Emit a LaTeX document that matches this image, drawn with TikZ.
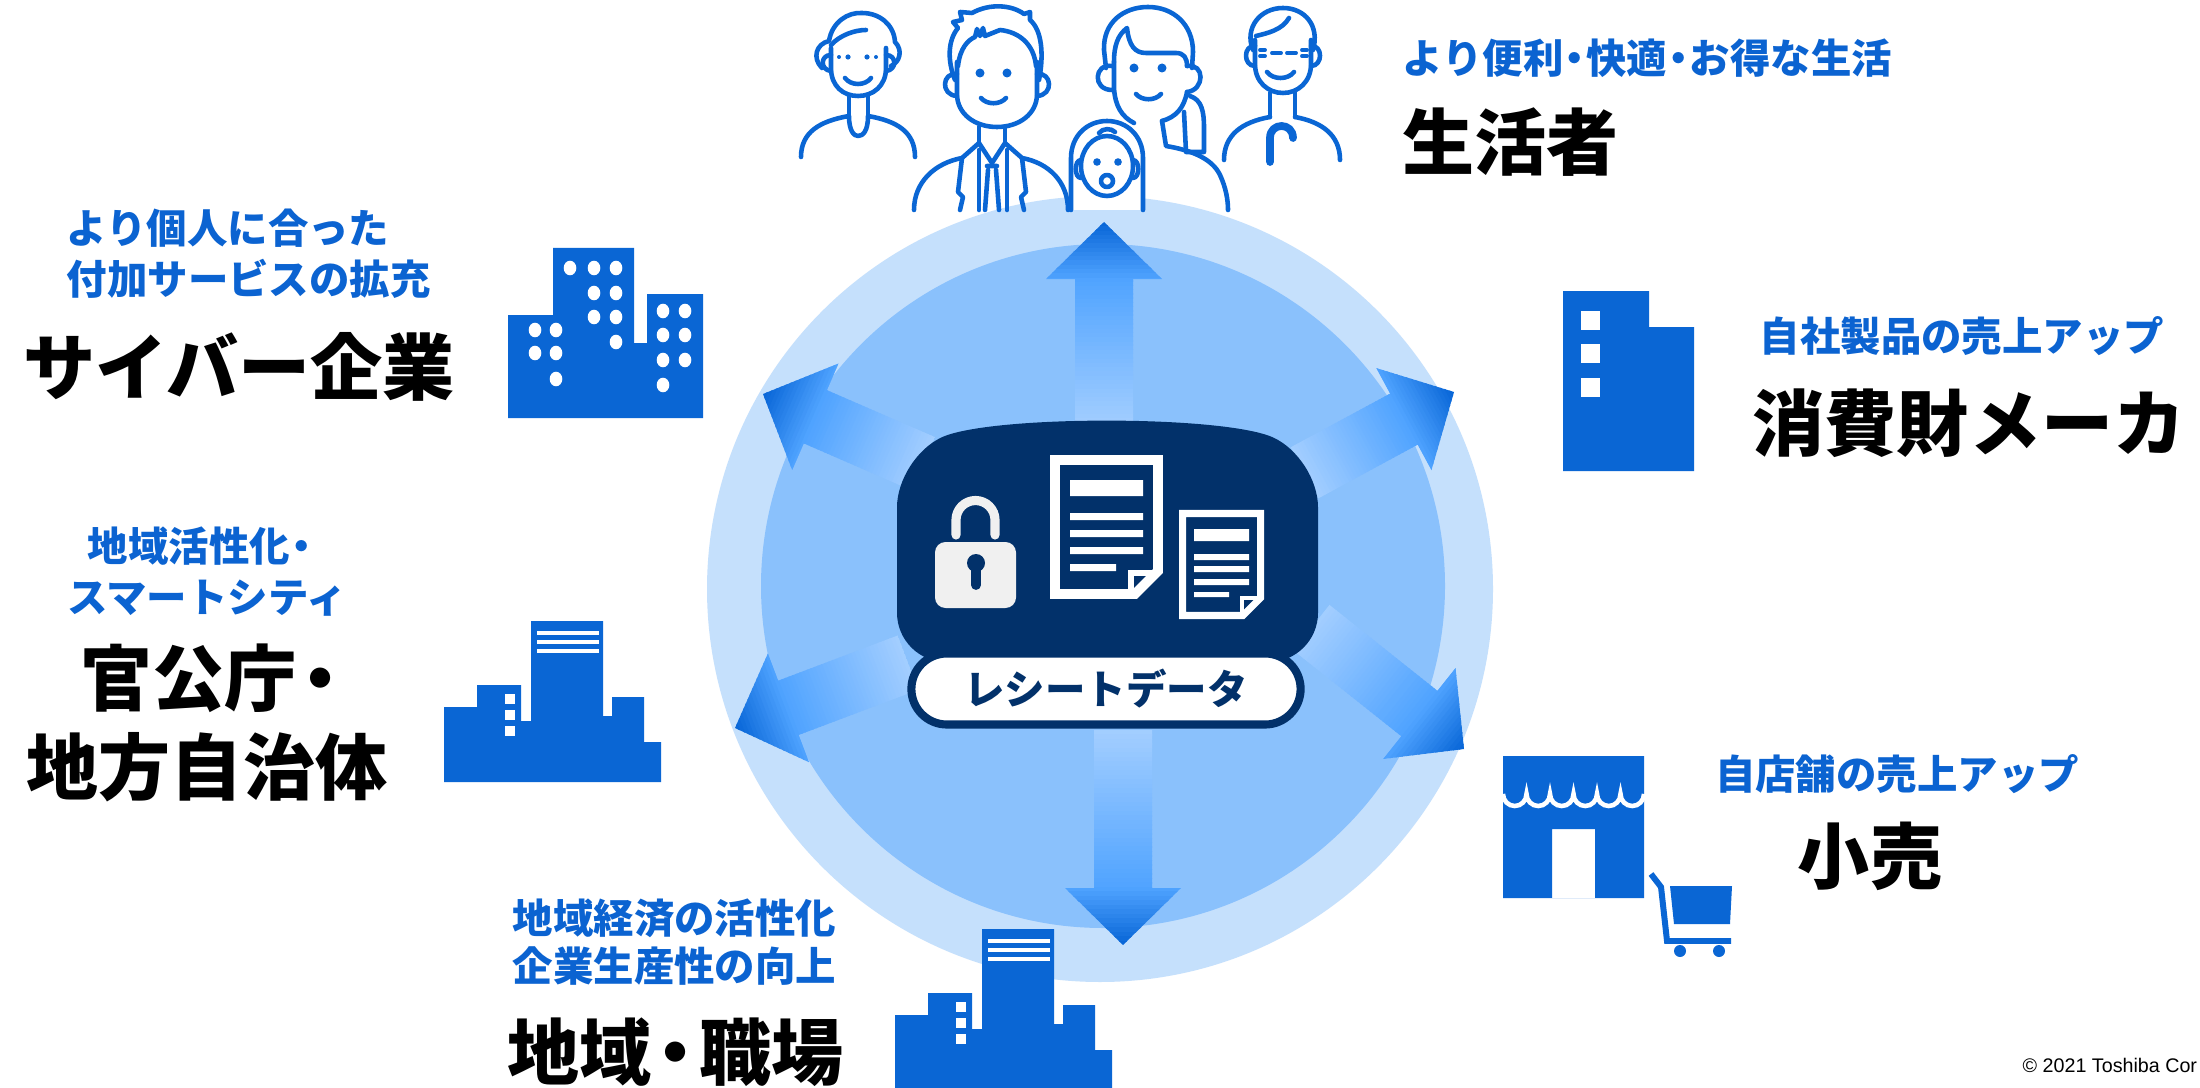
\documentclass[tikz,border=0pt]{standalone}
\usepackage{fontspec}
\usepackage{xcolor}
\usepackage{tikz}
\usetikzlibrary{positioning, calc}

\newfontfamily\jp{Noto Sans CJK JP}
\newfontfamily\notefont{Liberation Sans}

\definecolor{iconblue}{HTML}{0A66D4}
\definecolor{textblue}{HTML}{0B63D1}
\definecolor{navy}{HTML}{02316A}
\definecolor{ringout}{HTML}{C5E0FC}
\definecolor{ringin}{HTML}{8AC1FC}
\definecolor{arrowtip}{HTML}{0664D6}
\definecolor{arrowmid}{HTML}{4FA3FF}
\definecolor{arrowtail}{HTML}{A3CEFF}
\definecolor{lockgray}{HTML}{F0F0F0}

% narrow middle dot
\newcommand{\nakaguro}{\kern-.22em・\kern-.22em}
\newcommand{\bignakaguro}{\kern-.17em・\kern-.17em}

% fading arrow: tip x, tip y, direction, length
\newcommand{\flowarrow}[4]{%
  \begin{scope}[shift={(#1,#2)}, rotate=#3]
    \clip (0,0) -- (-57,-58) -- (-57,-29) -- (-#4,-29) -- (-#4,29) -- (-57,29) -- (-57,58) -- cycle;
    \foreach \k in {0,...,47} {
      \pgfmathsetmacro{\xa}{-#4+\k*#4/48}
      \pgfmathsetmacro{\xb}{\xa+#4/48+1.5}
      \pgfmathsetmacro{\xm}{\xa+#4/96}
      \pgfmathtruncatemacro{\p}{\xm>-57 ? min(100,(\xm+57)/57*100) : 0}
      \pgfmathtruncatemacro{\q}{\xm>-57 ? 100 : (\xm+#4)/(#4-57)*100}
      \fill[arrowtip!\p!arrowmid!\q!arrowtail] (\xa,-60) rectangle (\xb,60);
    }
  \end{scope}}

\tikzset{
  blue text/.style={text=textblue, inner sep=0, font=\jp\bfseries\fontsize{11.5}{14}\selectfont},
  big text/.style={text=black, inner sep=0, font=\jp\bfseries\fontsize{20.5}{24}\selectfont},
  person/.style={draw=iconblue, line width=1.3pt, line cap=round, line join=round},
  city/.pic={
    \fill[iconblue] (0,161) -- (0,86) -- (33,86) -- (33,64) -- (77,64) -- (77,100) -- (87,100) -- (87,0)
      -- (159,0) -- (159,95) -- (168,95) -- (168,76) -- (200,76) -- (200,121) -- (217,121) -- (217,161) -- cycle;
    \foreach \wy in {73,89,105} \fill[white] (61,\wy) rectangle ++(10,10);
    \foreach \sy in {12,21,30} \draw[white, line width=0.9pt] (93,\sy) -- (155,\sy);
  }
}

\begin{document}
\begin{tikzpicture}[x=0.01cm, y=-0.01cm]
		\useasboundingbox (0,0) rectangle (2200,1088);
		\clip (0,0) rectangle (2200,1088);
		\fill[white] (0,0) rectangle (2200,1088);
		
		% Rings
		\fill[ringout] (1100,589) circle (393);
		\fill[ringin] (1103,586) circle (342);
		
		% Arrows out of the data
		\flowarrow{1104}{222}{90}{205}
		\flowarrow{1123}{945}{-90}{215}
		\flowarrow{763}{394}{156.5}{175}
		\flowarrow{1454}{392}{28.4}{170}
		\flowarrow{735}{728}{200.7}{185}
		\flowarrow{1464}{749}{-38.5}{195}
		
		% Data store
		\fill[navy, rounded corners=14] (897,662) -- (897,458) .. controls (990,415) and (1224,415) .. (1318,458) -- (1318,662) -- cycle;
		
		% Lock
		\fill[lockgray, rounded corners=3] (935,542) rectangle (1016,608);
		\draw[lockgray, line width=2.6pt, line cap=round] (956,535) -- (956,520) arc (180:360:19.5) -- (995,535);
		\fill[navy] (976,563) circle (9);
		\draw[navy, line width=2.8pt, line cap=round] (976,566) -- (976,585);
		
		% Receipts
		\draw[white, line width=2.8pt] (1055,460) -- (1158,460) -- (1158,571) -- (1135,594) -- (1055,594) -- cycle;
		\draw[white, line width=1.8pt] (1131,594) -- (1131,573) -- (1156,573);
		\fill[white] (1070,480) rectangle (1143,496) (1070,513) rectangle (1143,520) (1070,530) rectangle (1143,537)
		  (1070,547) rectangle (1143,554) (1070,564) rectangle (1116,571);
		\draw[white, line width=2pt] (1182.5,513.5) -- (1260.5,513.5) -- (1260.5,598) -- (1243,615.5) -- (1182.5,615.5) -- cycle;
		\draw[white, line width=1.4pt] (1242,614) -- (1242,598) -- (1259,598);
		\fill[white] (1194,529) rectangle (1249,541) (1194,554) rectangle (1249,560) (1194,566) rectangle (1249,572)
		  (1194,579) rectangle (1249,585) (1194,592) rectangle (1229,597);
		
		\node[draw=navy, line width=2.3pt, fill=white, rounded corners=0.355cm, minimum width=3.89cm, minimum height=0.71cm,
		  inner sep=0, text=navy, font=\jp\bfseries\fontsize{11.5}{14}\selectfont] (receipt) at (1106,689) {レシートデータ};
		
		% Grandmother
		\draw[person] (831,48) -- (831,68) .. controls (831,86) and (843,96) .. (858,96) .. controls (873,96) and (886,86) .. (886,68) -- (886,48);
		\draw[person] (822,68) .. controls (812,58) and (816,44) .. (829,41) .. controls (832,22) and (848,12) .. (862,13)
		  .. controls (880,13) and (894,25) .. (895,42) .. controls (903,50) and (900,62) .. (891,66);
		\draw[person] (831,45) .. controls (840,35) and (855,30) .. (866,30);
		\draw[person] (831,55) .. controls (820,55) and (820,70) .. (831,71);
		\draw[person] (886,55) .. controls (897,55) and (897,70) .. (886,71);
		\fill[iconblue] (839,57) circle (2) (848,57) circle (2.6) (867,57) circle (2.6) (876,57) circle (2);
		\draw[person] (845,78) .. controls (851,86) and (865,86) .. (871,78);
		\draw[person] (849,96) -- (849,116) (868,96) -- (868,116);
		\draw[person] (801,157) .. controls (801,132) and (820,121) .. (849,116) .. controls (849,131) and (854,136) .. (858,136)
		  .. controls (863,136) and (868,131) .. (868,116) .. controls (897,121) and (915,132) .. (915,157);
		
		% Businessman
		\draw[person] (957,62) -- (957,94) .. controls (957,114) and (975,127) .. (997,127) .. controls (1019,127) and (1037,114) .. (1037,94) -- (1037,62);
		\draw[person] (955,80) .. controls (947,60) and (948,40) .. (958,28) -- (953,22) -- (962,20) -- (960,12) -- (972,13)
		  .. controls (990,3) and (1012,5) .. (1024,14) -- (1030,12) -- (1030,20) .. controls (1042,30) and (1044,55) .. (1039,80);
		\draw[person] (958,66) .. controls (960,48) and (968,40) .. (975,37) -- (977,29) -- (980,36) -- (983,28) -- (985,36) -- (1000,30)
		  .. controls (1020,32) and (1034,45) .. (1036,66);
		\draw[person] (957,74) .. controls (942,72) and (940,95) .. (957,96);
		\draw[person] (1037,74) .. controls (1052,72) and (1054,95) .. (1037,96);
		\fill[iconblue] (980,73) circle (4.5) (1007,73) circle (4.5);
		\draw[person] (981,98) .. controls (987,105) and (1000,105) .. (1006,98);
		\draw[person] (979,127) -- (979,143) (1005,127) -- (1005,143);
		\draw[person] (914,210) .. controls (914,182) and (935,163) .. (962,158) -- (979,143) -- (992,163) -- (1005,143) -- (1022,158)
		  .. controls (1049,163) and (1068,182) .. (1068,210);
		\draw[person] (962,158) -- (958,192) -- (963,197) -- (960,210);
		\draw[person] (1022,158) -- (1026,192) -- (1021,197) -- (1024,210);
		\draw[person] (979,150) -- (979,210) (1007,150) -- (1007,210);
		\draw[person] (987,166) -- (997,166) (988,170) -- (985,210) (996,170) -- (999,210);
		
		% Mother
		\draw[person] (1106,68) -- (1104,50) .. controls (1103,22) and (1124,7) .. (1148,7) .. controls (1173,7) and (1193,24) .. (1193,52) -- (1192,68);
		\draw[person] (1114,62) .. controls (1114,45) and (1118,35) .. (1127,28) .. controls (1129,46) and (1135,53) .. (1146,53)
		  -- (1176,53) .. controls (1184,53) and (1187,58) .. (1187,66);
		\draw[person] (1114,62) -- (1114,88) .. controls (1115,106) and (1122,117) .. (1134,123);
		\draw[person] (1187,92) .. controls (1184,108) and (1176,117) .. (1162,121);
		\draw[person] (1112,66) .. controls (1094,63) and (1092,90) .. (1112,90);
		\draw[person] (1187,66) .. controls (1205,63) and (1205,90) .. (1187,92);
		\fill[iconblue] (1134,68) circle (4.5) (1162,68) circle (4.5);
		\draw[person] (1136,94) .. controls (1142,101) and (1155,101) .. (1161,94);
		\draw[person] (1190,96) .. controls (1202,100) and (1204,112) .. (1204,128) -- (1204,152) -- (1186,152) -- (1184,112);
		\draw[person] (1162,121) -- (1166,146) .. controls (1190,150) and (1212,158) .. (1220,175) .. controls (1226,188) and (1228,200) .. (1228,210);
		
		% Baby
		\filldraw[person, fill=white] (1071,210) -- (1071,158) .. controls (1071,136) and (1087,121) .. (1107,121)
		  .. controls (1127,121) and (1143,136) .. (1143,158) -- (1143,210);
		\draw[person] (1107,166) ellipse (26 and 30);
		\draw[person] (1081,160) .. controls (1074,160) and (1074,178) .. (1081,178);
		\draw[person] (1133,160) .. controls (1140,160) and (1140,178) .. (1133,178);
		\draw[person] (1099,133) .. controls (1103,128) and (1111,128) .. (1115,132);
		\fill[iconblue] (1097,162) circle (3.8) (1118,162) circle (3.8);
		\draw[person] (1107,181) circle (6);
		
		% Grandfather
		\draw[person] (1255,40) -- (1255,64) .. controls (1255,82) and (1268,93) .. (1283,93) .. controls (1298,93) and (1311,82) .. (1311,64) -- (1311,40);
		\draw[person] (1253,50) .. controls (1244,28) and (1260,8) .. (1283,8) .. controls (1305,8) and (1320,26) .. (1313,50);
		\draw[person] (1256,36) .. controls (1268,33) and (1282,30) .. (1289,18);
		\draw[person] (1255,46) .. controls (1243,45) and (1243,66) .. (1255,66);
		\draw[person] (1311,46) .. controls (1323,45) and (1323,66) .. (1311,66);
		\draw[person, line width=1.1pt] (1260,50) -- (1265,50) (1260,56) -- (1265,56) (1272,53) -- (1281,53)
		  (1287,53) -- (1296,53) (1302,50) -- (1307,50) (1302,56) -- (1307,56);
		\draw[person] (1267,72) .. controls (1273,80) and (1288,80) .. (1294,72);
		\draw[person] (1270,93) -- (1270,117) (1295,93) -- (1295,117);
		\draw[person] (1224,160) .. controls (1224,135) and (1242,122) .. (1270,117);
		\draw[person] (1295,117) .. controls (1322,122) and (1340,135) .. (1340,160);
		\draw[person, line width=2.2pt] (1270,162) -- (1270,138) .. controls (1270,122) and (1293,122) .. (1293,138);
		
		% Cyber company towers
		\fill[iconblue] (508,418) -- (508,315) -- (553,315) -- (553,248) -- (634,248) -- (634,343) -- (647,343) -- (647,294)
		  -- (703,294) -- (703,418) -- cycle;
		\foreach \wx/\wy in {535/330, 556/330, 535/353, 556/353, 556/379, 570/268, 594/268, 616/268, 594/293, 616/293,
		  594/317, 616/317, 616/342, 663/311, 685/311, 663/335, 685/335, 663/360, 685/360, 663/385}
		  \fill[white] (\wx,\wy) ellipse (6.3 and 7.3);
		
		% Maker building
		\fill[iconblue] (1563,291) -- (1649,291) -- (1649,327) -- (1694,327) -- (1694,471) -- (1563,471) -- cycle;
		\foreach \wy in {311,344,378} \fill[white] (1581,\wy) rectangle ++(19,19);
		
		% Town buildings
		\pic at (444,621) {city};
		\pic at (895,929) {city};
		
		% Shop and cart
		\fill[iconblue, even odd rule] (1503,756) rectangle (1644,898) (1552,829) rectangle (1595,898);
		\draw[white, line width=1.3pt] (1503,794) \foreach \i in {1,...,6} {arc (180:0:11.75 and 12)};
		\draw[iconblue, line width=1.7pt] (1651,874) -- (1661,887) -- (1667,941) -- (1731,941);
		\fill[iconblue] (1670,886) -- (1732,886) -- (1730,924) -- (1674,924) -- cycle;
		\fill[iconblue] (1680,951) circle (6) (1719,951) circle (6);
		
		% Labels
		\node[blue text, anchor=west] (life-sub) at (1402,58) {より便利\nakaguro 快適\nakaguro お得な生活};
		\node[big text, anchor=west] (life) at (1402,142) {生活者};
		
		\node[blue text, anchor=west] (cyber-sub1) at (66,228) {より個人に合った};
		\node[blue text, anchor=west] (cyber-sub2) at (66,279) {付加サービスの拡充};
		\node[big text, anchor=west] (cyber) at (23,367) {サイバー企業};
		
		\node[blue text, anchor=west] (maker-sub) at (1759,336) {自社製品の売上アップ};
		\node[big text, anchor=west] (maker) at (1752,423) {消費財メーカ};
		
		\node[blue text] (gov-sub1) at (205,546) {地域活性化\kern-.2em・};
		\node[blue text] (gov-sub2) at (207,598) {スマートシティ};
		\node[big text] (gov1) at (212,678) {官公庁\bignakaguro};
		\node[big text] (gov2) at (207,767) {地方自治体};
		
		\node[blue text] (shop-sub) at (1897,774) {自店舗の売上アップ};
		\node[big text] (shop) at (1870,856) {小売};
		
		\node[blue text, anchor=west] (town-sub1) at (512,918) {地域経済の活性化};
		\node[blue text, anchor=west] (town-sub2) at (512,966) {企業生産性の向上};
		\node[big text, anchor=west] (town) at (507,1052) {地域\bignakaguro 職場};
		
		\node[anchor=base west, inner sep=0, font=\notefont\fontsize{5.6}{7}\selectfont] (note) at (2022,1072) {© 2021 Toshiba Cor};
\end{tikzpicture}
\end{document}
